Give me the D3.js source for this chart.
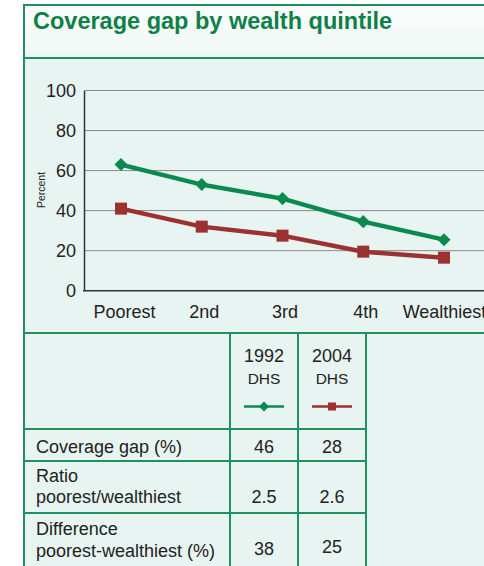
<!DOCTYPE html>
<html><head><meta charset="utf-8">
<script src="https://cdn.jsdelivr.net/npm/d3@7"></script>
<style>html,body{margin:0;padding:0;background:#fff;}svg{display:block;}</style>
</head><body>
<svg id="c" width="484" height="566"></svg>
<script>
const categories = ["Poorest","2nd","3rd","4th","Wealthiest"];
const series1992 = [63, 53, 46, 34.5, 25.5];
const series2004 = [41, 32, 27.5, 19.5, 16.5];
const yTicks = [0,20,40,60,80,100];
const seriesNames = ["1992","2004"];
const tableRows = [
  {label:["Coverage gap (%)"], v:["46","28"]},
  {label:["Ratio","poorest/wealthiest"], v:["2.5","2.6"]},
  {label:["Difference","poorest-wealthiest (%)"], v:["38","25"]}
];

const green = "#0b8a50", red = "#9b3131", border = "#1f9060", bg = "#e8f4f1", txt = "#222";
const font = "'Liberation Sans', Arial, sans-serif";
const svg = d3.select("#c");
const defs = svg.append("defs");
const g = defs.append("linearGradient").attr("id","tg").attr("x1",0).attr("y1",0).attr("x2",0).attr("y2",1);
g.append("stop").attr("offset","0%").attr("stop-color","#fbfdfc");
g.append("stop").attr("offset","100%").attr("stop-color","#eef7f4");

// backgrounds
svg.append("rect").attr("x",24).attr("y",5).attr("width",460).attr("height",53).attr("fill","url(#tg)");
svg.append("rect").attr("x",24).attr("y",58).attr("width",460).attr("height",508).attr("fill",bg);

svg.append("text").attr("x",33).attr("y",29).attr("font-family",font).attr("font-weight","bold")
  .attr("font-size",23.5).attr("fill","#0e8048").text("Coverage gap by wealth quintile");

// chart
const x = d3.scalePoint().domain(categories).range([121, 444]);
const y = d3.scaleLinear().domain([0,100]).range([290.7, 90.5]);
const chart = svg.append("g");
chart.selectAll("line.grid").data(yTicks.filter(d=>d>0)).join("line")
  .attr("x1",84).attr("x2",484).attr("y1",d=>y(d)).attr("y2",d=>y(d))
  .attr("stroke","#8a8a8a").attr("stroke-width",1);
const yAxis = chart.append("g").attr("transform","translate(84,0)")
  .call(d3.axisLeft(y).tickValues(yTicks).tickSize(0).tickPadding(8));
yAxis.select(".domain").attr("stroke","#333").attr("stroke-width",1.5);
yAxis.selectAll("text").attr("font-family",font).attr("font-size",18).attr("fill",txt);
chart.append("line").attr("x1",83).attr("x2",484).attr("y1",y(0)).attr("y2",y(0)).attr("stroke","#333").attr("stroke-width",1.5);
const xAxis = chart.append("g").attr("transform",`translate(0,${y(0)})`)
  .call(d3.axisBottom(x).tickSize(0).tickPadding(0));
xAxis.select(".domain").remove();
xAxis.selectAll("text").attr("font-family",font).attr("font-size",18).attr("fill",txt)
  .attr("y",27).attr("dy",0)
  .attr("dx",(d,i)=>[3,2,2,2,0][i]);
svg.append("text").attr("transform","translate(45,190) rotate(-90)").attr("text-anchor","middle")
  .attr("font-family",font).attr("font-size",10.5).attr("fill",txt).text("Percent");

const line = d3.line().x((d,i)=>x(categories[i])).y(d=>y(d));
chart.append("path").datum(series1992).attr("d",line).attr("fill","none").attr("stroke",green).attr("stroke-width",4.5);
chart.append("path").datum(series2004).attr("d",line).attr("fill","none").attr("stroke",red).attr("stroke-width",4.5);
chart.selectAll("path.m1").data(series1992).join("path")
  .attr("d",d3.symbol().type(d3.symbolSquare).size(85)()).attr("fill",green)
  .attr("transform",(d,i)=>`translate(${x(categories[i])},${y(d)}) rotate(45)`);
chart.selectAll("rect.m2").data(series2004).join("rect")
  .attr("x",(d,i)=>x(categories[i])-6).attr("y",d=>y(d)-6).attr("width",12).attr("height",12).attr("fill",red);

// table
const colX = [24, 230, 298, 366];
const rowY = [333, 429, 461, 513, 566];
const tbl = svg.append("g");
tbl.append("line").attr("x1",24).attr("x2",484).attr("y1",333).attr("y2",333).attr("stroke",border).attr("stroke-width",2);
rowY.slice(1,4).forEach(yy=>tbl.append("line").attr("x1",24).attr("x2",366).attr("y1",yy).attr("y2",yy).attr("stroke",border).attr("stroke-width",2));
colX.slice(1).forEach(xx=>tbl.append("line").attr("x1",xx).attr("x2",xx).attr("y1",333).attr("y2",566).attr("stroke",border).attr("stroke-width",2));
const cc = [264, 332];
seriesNames.forEach((s,i)=>{
  tbl.append("text").attr("x",cc[i]).attr("y",361.5).attr("text-anchor","middle").attr("font-family",font).attr("font-size",18).attr("fill",txt).text(s);
  tbl.append("text").attr("x",cc[i]).attr("y",383.5).attr("text-anchor","middle").attr("font-family",font).attr("font-size",15.5).attr("fill",txt).text("DHS");
  const col = i===0?green:red;
  tbl.append("line").attr("x1",cc[i]-20).attr("x2",cc[i]+20).attr("y1",406.5).attr("y2",406.5).attr("stroke",col).attr("stroke-width",2.5);
  if(i===0) tbl.append("rect").attr("x",cc[i]-3.5).attr("y",403).attr("width",7).attr("height",7).attr("fill",col).attr("transform",`rotate(45,${cc[i]},406.5)`);
  else tbl.append("rect").attr("x",cc[i]-4).attr("y",402.5).attr("width",8).attr("height",8).attr("fill",col);
});
const lblY = [[452.5],[482,503],[535,556.5]];
const valY = [452.5,503,555];
tableRows.forEach((r,ri)=>{
  r.label.forEach((l,li)=>tbl.append("text").attr("x",36).attr("y",lblY[ri][li]).attr("font-family",font).attr("font-size",18).attr("fill",txt).text(l));
  r.v.forEach((v,vi)=>tbl.append("text").attr("x",cc[vi]).attr("y",valY[ri]-(ri===2&&vi===1?2:0)).attr("text-anchor","middle").attr("font-family",font).attr("font-size",18).attr("fill",txt).text(v));
});

// outer borders
svg.append("line").attr("x1",24).attr("x2",24).attr("y1",4).attr("y2",566).attr("stroke",border).attr("stroke-width",2);
svg.append("line").attr("x1",23).attr("x2",484).attr("y1",5).attr("y2",5).attr("stroke",border).attr("stroke-width",2);
svg.append("line").attr("x1",24).attr("x2",484).attr("y1",58).attr("y2",58).attr("stroke",border).attr("stroke-width",2);
</script>
</body></html>
